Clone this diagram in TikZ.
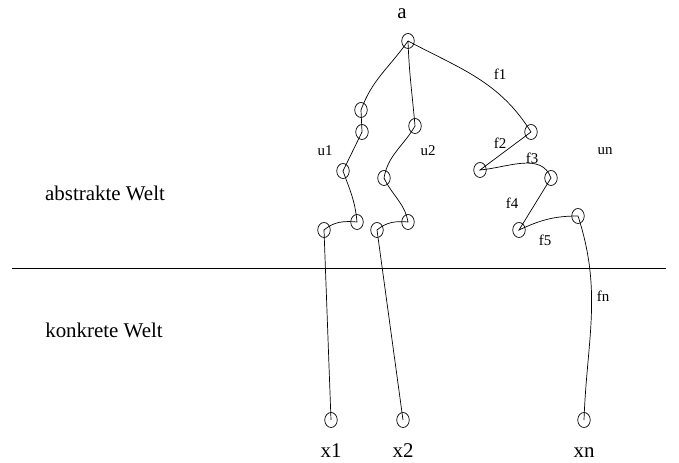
\documentclass[tikz,border=0pt]{standalone}
\usepackage{fontspec}
\setmainfont{Liberation Serif}
\usetikzlibrary{shapes.geometric}
\tikzset{
  knot/.style={draw, ellipse, inner sep=0pt, minimum width=12.5bp, minimum height=15bp, line width=0.7bp},
  big/.style={font=\fontsize{21}{24}\selectfont, inner sep=0pt, anchor=base},
  small/.style={font=\fontsize{15}{17}\selectfont, inner sep=0pt},
  con/.style={line width=0.7bp}
}
\begin{document}
\begin{tikzpicture}[x=1bp,y=1bp]
\useasboundingbox (0,0) rectangle (679,463);
% knots
\node[knot] (a) at (408,422) {};
\node[knot] (c1) at (361,353) {};
\node[knot] (c2) at (362,331) {};
\node[knot] (c3) at (343,292) {};
\node[knot] (c4) at (357,241) {};
\node[knot] (c5) at (324,233) {};
\node[knot] (x1) at (331,43) {};
\node[knot] (d1) at (415,337) {};
\node[knot] (d2) at (384,285) {};
\node[knot] (d3) at (408,241) {};
\node[knot] (d4) at (377,233) {};
\node[knot] (x2) at (403,43) {};
\node[knot] (e1) at (531,331) {};
\node[knot] (e2) at (480,293) {};
\node[knot] (e3) at (551,285) {};
\node[knot] (e4) at (519,233) {};
\node[knot] (e5) at (578,247) {};
\node[knot] (xn) at (584,43) {};
% labels
\node[big] (la) at (402,444) {a};
\node[big] (lx1) at (331,5) {x1};
\node[big] (lx2) at (403,5) {x2};
\node[big] (lxn) at (584,5) {xn};
\node[big] (abs) at (105,262) {abstrakte Welt};
\node[big] (kon) at (104,125) {konkrete Welt};
\node[small] (lf1) at (500,389) {f1};
\node[small] (lu1) at (325,312) {u1};
\node[small] (lu2) at (428,312) {u2};
\node[small] (lf2) at (500,320) {f2};
\node[small] (lf3) at (532,305) {f3};
\node[small] (lf4) at (512,260) {f4};
\node[small] (lf5) at (545,223) {f5};
\node[small] (lun) at (605,312) {un};
\node[small] (lfn) at (603,167) {fn};
% separator
\coordinate (L) at (12,195);
\coordinate (R) at (666,195);
\draw[con] (L) -- (R);
% u1 chain
\draw[con] (a.center) to[out=-125,in=70] (c1.center)
  -- (c2.center) -- (c3.center)
  to[out=-70,in=95] (c4.center)
  to[out=175,in=40] (c5.center)
  -- (x1.center);
% u2 chain
\draw[con] (a.center) to[out=-88,in=95] (d1.center)
  to[out=-120,in=80] (d2.center)
  to[out=-65,in=100] (d3.center)
  to[out=175,in=40] (d4.center)
  -- (x2.center);
% un chain
\draw[con] (a.center) to[out=-28,in=122] (e1.center)
  -- (e2.center)
  to[out=5,in=110] (e3.center)
  -- (e4.center)
  to[out=25,in=180] (e5.center)
  to[out=-72,in=88] (xn.center);
\end{tikzpicture}
\end{document}
